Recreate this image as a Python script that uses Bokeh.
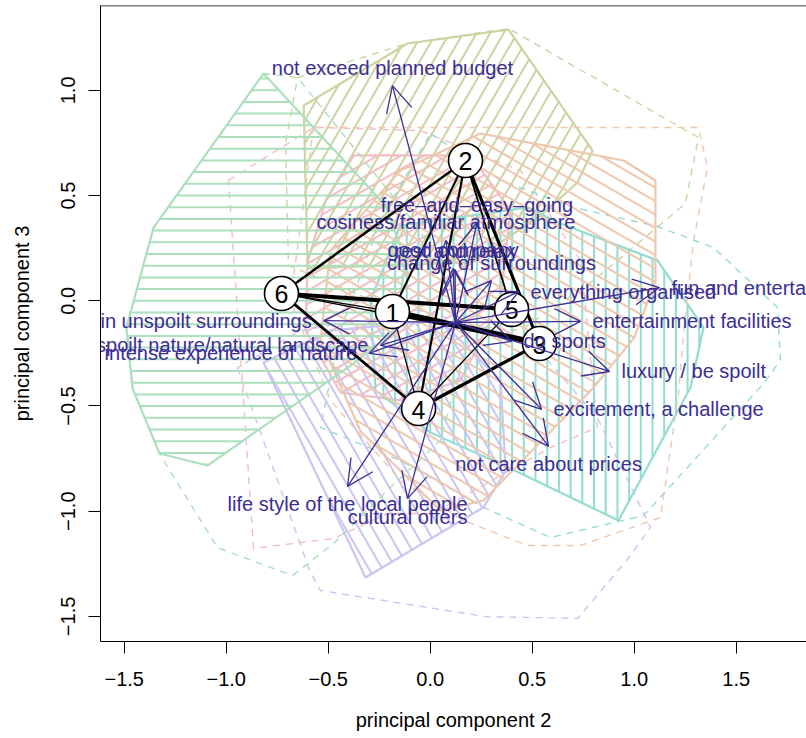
import numpy as np
from bokeh.plotting import figure
from bokeh.models import ColumnDataSource, Arrow, OpenHead, Span, Range1d, FixedTicker
from bokeh.embed import file_html
from bokeh.resources import INLINE
from bokeh.core.properties import value

# ---------------- data ----------------
x_ticks = [-1.5, -1.0, -0.5, 0.0, 0.5, 1.0, 1.5]
x_tick_labels = ["\u22121.5", "\u22121.0", "\u22120.5", "0.0", "0.5", "1.0", "1.5"]
y_ticks = [-1.5, -1.0, -0.5, 0.0, 0.5, 1.0]
y_tick_labels = ["\u22121.5", "\u22121.0", "\u22120.5", "0.0", "0.5", "1.0"]

cluster_ids = ["1", "2", "3", "4", "5", "6"]
centre_x = [-0.185, 0.173, 0.536, -0.057, 0.399, -0.729]
centre_y = [-0.051, 0.667, -0.203, -0.512, -0.041, 0.035]

edge_from = [6, 6, 6, 1, 6, 6, 2, 2, 2, 2, 1, 4, 4]
edge_to = [5, 1, 3, 3, 2, 4, 1, 4, 5, 3, 4, 3, 5]
edge_weight = [4.0, 1.3, 1.3, 5.5, 2.5, 2.8, 2.0, 2.2, 1.8, 3.2, 1.2, 3.2, 1.3]

# inner (solid, shaded) and outer (dashed) hulls per cluster
hull1_x = [-0.375, 0.198, 0.394, 0.345, 0.149, -0.146, -0.440, -0.611, -0.601, -0.512]
hull1_y = [0.691, 0.691, 0.429, 0.001, -0.379, -0.474, -0.436, -0.141, 0.182, 0.477]
outer1_x = [-0.989, -0.572, -0.048, 0.443, 0.737, 0.820, 0.590, 0.016, -0.209, -0.474, -0.866, -0.915, -0.945]
outer1_y = [0.572, 0.824, 0.809, 0.619, 0.192, -0.602, -0.697, -1.011, -1.011, -1.130, -1.177, -0.474, -0.046]

hull2_x = [-0.620, -0.111, 0.384, 0.796, 0.722, 0.541, 0.198, -0.601]
hull2_y = [0.928, 1.223, 1.289, 0.714, 0.562, 0.405, 0.183, 0.154]
outer2_x = [-0.650, -0.111, 0.384, 1.315, 1.251, 0.801, 0.443, -0.048, -0.695, -0.709]
outer2_y = [1.061, 1.223, 1.294, 0.776, 0.462, 0.097, -0.141, -0.094, 0.168, 0.748]

hull3_x = [-0.146, 0.477, 0.639, 1.114, 1.340, 1.276, 0.923, 0.394, 0.001, -0.268, -0.293]
hull3_y = [0.358, 0.444, 0.367, 0.192, -0.127, -0.412, -1.044, -0.797, -0.626, -0.426, 0.001]
outer3_x = [0.001, 0.345, 0.702, 1.114, 1.389, 1.702, 1.717, 1.634, 1.261, 1.046, 0.590, 0.261, -0.146, -0.538, -0.440, -0.244]
outer3_y = [0.795, 0.572, 0.444, 0.353, 0.253, -0.031, -0.282, -0.393, -0.792, -1.021, -1.125, -0.982, -0.759, -0.602, -0.141, 0.382]

hull4_x = [-0.817, -0.489, 0.050, 0.345, 0.370, 0.261, -0.317]
hull4_y = [-0.293, -0.141, -0.094, -0.379, -0.807, -0.982, -1.315]
outer4_x = [-0.945, -0.591, -0.538, 0.271, 0.722, 0.963, 1.080, 0.820, 0.492, -0.048, -0.636]
outer4_y = [-0.318, -1.282, -1.377, -1.501, -1.510, -1.234, -1.077, -0.557, -0.189, -0.046, -0.141]

hull5_x = [-0.146, 0.247, 0.948, 1.104, 1.104, 1.001, 0.801, 0.261, 0.050, -0.342, -0.538, -0.489]
hull5_y = [0.619, 0.795, 0.667, 0.572, 0.096, -0.174, -0.412, -0.949, -0.997, -0.619, -0.188, 0.239]
outer5_x = [-0.572, 1.315, 1.359, 1.291, 1.242, 1.217, 1.129, 0.737, 0.477, 0.163, -0.146, -0.489, -0.685]
outer5_y = [0.824, 0.824, 0.634, 0.287, -0.155, -0.441, -1.030, -1.163, -1.163, -1.044, -0.854, -0.474, 0.001]

hull6_x = [-0.817, -0.219, -0.121, -0.170, -0.391, -1.092, -1.327, -1.459, -1.489, -1.356]
hull6_y = [1.080, 0.453, 0.192, -0.141, -0.308, -0.783, -0.726, -0.417, -0.127, 0.348]
outer6_x = [-0.817, -0.650, -0.048, 0.198, 0.050, -0.195, -0.474, -0.675, -1.043, -1.322, -1.459, -1.489, -1.356]
outer6_y = [1.080, 1.061, 0.334, -0.141, -0.664, -0.887, -1.154, -1.306, -1.173, -0.735, -0.417, -0.127, 0.348]

hull_colors = ["#F5BCC7", "#CDD3A2", "#94DCD0", "#CAC5F1", "#EEC8AE", "#ACDFBC"]
hatch_angles = [30, 60, 90, 120, 150, 180]

arrow_origin_x = 0.124
arrow_origin_y = -0.103
var_names = ["not exceed planned budget", "free\u2013and\u2013easy\u2013going",
             "cosiness/familiar atmosphere", "rest and relax", "good company",
             "change of surroundings", "everything organised", "fun and entertainment",
             "entertainment facilities", "do sports", "luxury / be spoilt",
             "excitement, a challenge", "not care about prices",
             "life style of the local people", "cultural offers",
             "maintain unspoilt surroundings", "unspoilt nature/natural landscape",
             "intense experience of nature"]
load_x = [-0.185, 0.229, 0.077, 0.122, 0.112, 0.300, 0.433, 1.124, 0.737, 0.399, 0.879,
          0.546, 0.580, -0.405, -0.111, -0.522, -0.244, -0.300]
load_y = [1.023, 0.372, 0.287, 0.149, 0.154, 0.096, 0.044, 0.063, -0.098, -0.193, -0.336,
          -0.516, -0.692, -0.882, -0.940, -0.094, -0.212, -0.250]
label_pos = [3, 3, 3, 3, 3, 3, 4, 4, 4, 4, 4, 4, 1, 1, 1, 2, 2, 2]

# ---------------- helpers ----------------
SX, SY = 204.0, 210.4  # pixels per data unit (for hatch geometry only)


def hatch_lines(xs, ys, angle, spacing=11.7):
    X = np.asarray(xs) * SX
    Y = np.asarray(ys) * SY
    th = np.deg2rad(angle)
    c, s = np.cos(th), np.sin(th)
    u = X * c + Y * s
    v = -X * s + Y * c
    n = len(u)
    levels = np.arange(np.ceil(v.min() / spacing), np.floor(v.max() / spacing) + 1) * spacing
    x0, y0, x1, y1 = [], [], [], []
    for lv in levels:
        cross = []
        for i in range(n):
            j = (i + 1) % n
            a, b = v[i], v[j]
            if (a <= lv < b) or (b <= lv < a):
                t = (lv - a) / (b - a)
                cross.append(u[i] + t * (u[j] - u[i]))
        cross.sort()
        for k in range(0, len(cross) - 1, 2):
            ua, ub = cross[k], cross[k + 1]
            x0.append((ua * c - lv * s) / SX)
            y0.append((ua * s + lv * c) / SY)
            x1.append((ub * c - lv * s) / SX)
            y1.append((ub * s + lv * c) / SY)
    return dict(x0=x0, y0=y0, x1=x1, y1=y1)


FONT = value("Liberation Sans")
TXT = "#3B2E95"
Y_TOP = 1.4035

p = figure(width=806, height=738,
           x_range=Range1d(-1.6162, 1.8446), y_range=Range1d(-1.6193, Y_TOP),
           output_backend="svg", toolbar_location=None,
           min_border_left=100, min_border_right=0, min_border_top=5, min_border_bottom=97)
p.grid.visible = False
p.outline_line_color = None

hulls = [(hull1_x, hull1_y, outer1_x, outer1_y), (hull2_x, hull2_y, outer2_x, outer2_y),
         (hull3_x, hull3_y, outer3_x, outer3_y), (hull4_x, hull4_y, outer4_x, outer4_y),
         (hull5_x, hull5_y, outer5_x, outer5_y), (hull6_x, hull6_y, outer6_x, outer6_y)]

for (hx, hy, ox, oy), col, ang in zip(hulls, hull_colors, hatch_angles):
    p.patch(ox, oy, fill_color=None, line_color=col, line_width=1.4, line_dash="7 6")
    p.segment("x0", "y0", "x1", "y1", source=ColumnDataSource(hatch_lines(hx, hy, ang)),
              line_color=col, line_width=2.0)
    p.patch(hx, hy, fill_color=None, line_color=col, line_width=2.2)

# neighbourhood graph
ex0 = [centre_x[a - 1] for a in edge_from]
ey0 = [centre_y[a - 1] for a in edge_from]
ex1 = [centre_x[b - 1] for b in edge_to]
ey1 = [centre_y[b - 1] for b in edge_to]
p.segment("x0", "y0", "x1", "y1",
          source=ColumnDataSource(dict(x0=ex0, y0=ey0, x1=ex1, y1=ey1, w=edge_weight)),
          line_color="black", line_width="w")

p.scatter(centre_x, centre_y, size=34, marker="circle", fill_color="white",
          line_color="black", line_width=1.6)
p.text(centre_x, centre_y, text=cluster_ids, text_font=FONT, text_font_size="25px",
       text_align="center", text_baseline="middle", text_color="black", y_offset=1)

# projected variable axes
arr_src = ColumnDataSource(dict(x0=[arrow_origin_x] * len(load_x), y0=[arrow_origin_y] * len(load_y),
                                x1=load_x, y1=load_y))
p.add_layout(Arrow(source=arr_src, x_start="x0", y_start="y0", x_end="x1", y_end="y1",
                   line_color=TXT, line_width=1.3,
                   end=OpenHead(size=26, line_color=TXT, line_width=1.3)))

pos_style = {1: ("center", 0, 18), 2: ("right", -12, 0), 3: ("center", 0, -18), 4: ("left", 12, 0)}
for ps, (al, xo, yo) in pos_style.items():
    idx = [i for i, q in enumerate(label_pos) if q == ps]
    p.text([load_x[i] for i in idx], [load_y[i] for i in idx], text=[var_names[i] for i in idx],
           text_font=FONT, text_font_size="20px", text_color=TXT, text_align=al,
           text_baseline="middle", x_offset=xo, y_offset=yo)

# top border of the box
p.add_layout(Span(location=Y_TOP, dimension="width", line_color="black", line_width=1.5))

for ax, ticks, labels, title in ((p.xaxis, x_ticks, x_tick_labels, "principal component 2"),
                                 (p.yaxis, y_ticks, y_tick_labels, "principal component 3")):
    ax.ticker = FixedTicker(ticks=ticks)
    ax.major_label_overrides = {t: l for t, l in zip(ticks, labels)}
    ax.minor_tick_line_color = None
    ax.major_tick_in = 0
    ax.major_tick_out = 12
    ax.axis_line_color = "black"
    ax.major_tick_line_color = "black"
    ax.major_label_text_font = "Liberation Sans"
    ax.major_label_text_font_size = "20px"
    ax.major_label_text_color = "black"
    ax.axis_label = title
    ax.axis_label_text_font = "Liberation Sans"
    ax.axis_label_text_font_size = "20px"
    ax.axis_label_text_font_style = "normal"
    ax.axis_label_text_color = "black"

p.xaxis.major_label_standoff = 18
p.xaxis.axis_label_standoff = 20
p.yaxis.major_label_orientation = "vertical"
p.yaxis.major_label_standoff = 13
p.yaxis.axis_label_standoff = 26

open("out.html", "w").write(file_html(p, INLINE))
